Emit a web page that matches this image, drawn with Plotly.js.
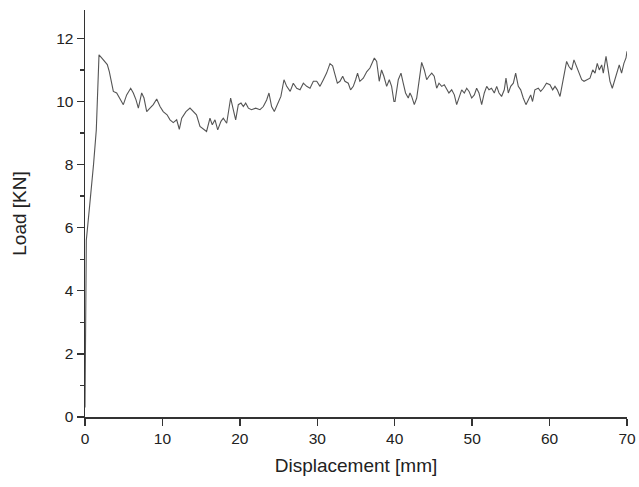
<!DOCTYPE html>
<html>
<head>
<meta charset="utf-8">
<script src="https://cdn.plot.ly/plotly-3.0.1.min.js"></script>
<style>html,body{margin:0;padding:0;background:#fff;}#chart{width:639px;height:487px;}</style>
</head>
<body>
<div id="chart"></div>
<script>
const displacement = [0,0.05,0.17,0.6,1.03,1.1,1.46,1.81,2.15,2.58,2.88,3.14,3.44,3.66,4.09,4.43,4.74,4.95,5.38,5.9,6.24,6.59,6.89,7.32,7.62,7.97,8.39,8.82,9.26,9.69,10.1,10.6,10.98,11.4,11.84,12.18,12.49,13.04,13.56,14.0,14.4,14.85,15.28,15.7,16.14,16.44,16.79,17.14,17.56,17.86,18.3,18.81,19.15,19.46,19.8,20.15,20.45,20.75,21.1,21.5,22.05,22.6,23.03,23.46,23.76,24.1,24.45,24.88,25.3,25.7,26.05,26.5,26.9,27.34,27.77,28.2,28.63,29.06,29.49,29.93,30.35,30.78,31.2,31.64,31.98,32.29,32.59,32.93,33.28,33.57,34.0,34.3,34.65,34.95,35.2,35.5,35.94,36.4,36.8,37.37,37.67,38.0,38.3,38.6,38.96,39.3,39.6,39.9,40.04,40.46,40.81,41.1,41.4,41.75,41.97,42.19,42.53,42.84,43.14,43.48,43.82,44.13,44.43,44.78,45.1,45.42,45.72,46.07,46.4,46.72,47.0,47.36,47.7,48.0,48.34,48.65,48.99,49.3,49.6,49.94,50.28,50.58,50.88,51.23,51.57,51.88,52.18,52.5,52.86,53.17,53.47,53.8,54.15,54.37,54.67,54.98,55.32,55.62,55.96,56.27,56.6,56.95,57.25,57.56,57.8,58.1,58.54,58.85,59.2,59.6,60.05,60.4,60.7,61.0,61.35,61.77,62.2,62.5,62.85,63.15,63.5,63.8,64.15,64.45,64.87,65.22,65.57,65.87,66.16,66.42,66.73,66.94,67.29,67.58,67.8,68.1,68.45,68.75,69.0,69.3,69.6,69.87,70.0];
const load = [0.3,2.0,5.6,6.7,7.7,8.0,9.1,11.48,11.38,11.27,11.17,10.95,10.58,10.32,10.27,10.11,10.0,9.9,10.21,10.42,10.27,10.05,9.79,10.27,10.11,9.68,9.79,9.9,10.08,9.84,9.68,9.58,9.42,9.33,9.42,9.12,9.47,9.68,9.79,9.68,9.58,9.21,9.12,9.05,9.47,9.26,9.42,9.1,9.37,9.47,9.31,10.11,9.74,9.42,9.9,9.95,9.84,9.95,9.79,9.74,9.79,9.74,9.84,10.05,10.27,9.84,9.68,9.95,10.16,10.69,10.48,10.32,10.58,10.42,10.37,10.58,10.48,10.42,10.64,10.64,10.48,10.69,10.9,11.2,11.13,10.85,10.58,10.64,10.8,10.64,10.58,10.37,10.48,10.69,10.9,10.64,10.74,10.95,11.06,11.38,11.27,10.64,11.0,10.8,10.48,10.69,10.48,10.0,10.0,10.69,10.9,10.58,10.27,10.11,10.27,10.16,9.9,10.11,10.69,11.24,11.0,10.69,10.8,10.9,10.8,10.42,10.58,10.48,10.53,10.37,10.27,10.37,10.21,9.9,10.16,10.37,10.27,10.42,10.32,10.11,10.21,10.42,10.27,9.9,10.27,10.48,10.37,10.42,10.27,10.48,10.27,10.16,10.37,10.74,10.27,10.48,10.58,10.9,10.48,10.37,10.11,9.9,10.05,10.21,10.0,10.37,10.42,10.32,10.42,10.58,10.53,10.37,10.48,10.37,10.16,10.69,11.27,11.11,11.0,11.32,11.11,10.9,10.69,10.64,10.69,10.74,11.0,10.9,11.21,11.0,11.16,10.9,11.43,10.9,10.64,10.42,10.69,10.95,11.16,10.9,11.21,11.38,11.59];
const xTickVals = [0,10,20,30,40,50,60,70];
const yTickVals = [0,2,4,6,8,10,12];

const fam = 'Liberation Sans, Arial, sans-serif';
const tickFont = {family: fam, size: 15.5, color: '#222'};
const titleFont = {family: fam, size: 19, color: '#222'};
Plotly.newPlot('chart', [{
  x: displacement, y: load, type: 'scatter', mode: 'lines',
  line: {color: '#555', width: 1.1}
}], {
  width: 639, height: 487,
  margin: {l: 85, r: 12, t: 10, b: 70},
  paper_bgcolor: '#fff', plot_bgcolor: '#fff',
  showlegend: false,
  font: tickFont,
  xaxis: {
    range: [0, 70], tickvals: xTickVals, ticks: 'outside', ticklen: 7, tickwidth: 1.4, tickcolor: '#333',
    showline: true, linecolor: '#333', linewidth: 1.5, showgrid: false, zeroline: false,
    tickfont: tickFont,
    title: {text: 'Displacement [mm]', font: titleFont, standoff: 12}
  },
  yaxis: {
    range: [0, 12.9], tickvals: yTickVals, ticks: 'outside', ticklen: 7, tickwidth: 1.4, tickcolor: '#333',
    minor: {tickvals: [1,3,5,7,9,11], ticks: 'outside', ticklen: 4, tickcolor: '#333'},
    showline: true, linecolor: '#333', linewidth: 1.5, showgrid: false, zeroline: false,
    tickfont: tickFont,
    title: {text: 'Load [KN]', font: titleFont, standoff: 24}
  }
}, {displayModeBar: false, staticPlot: true});
</script>
</body>
</html>
